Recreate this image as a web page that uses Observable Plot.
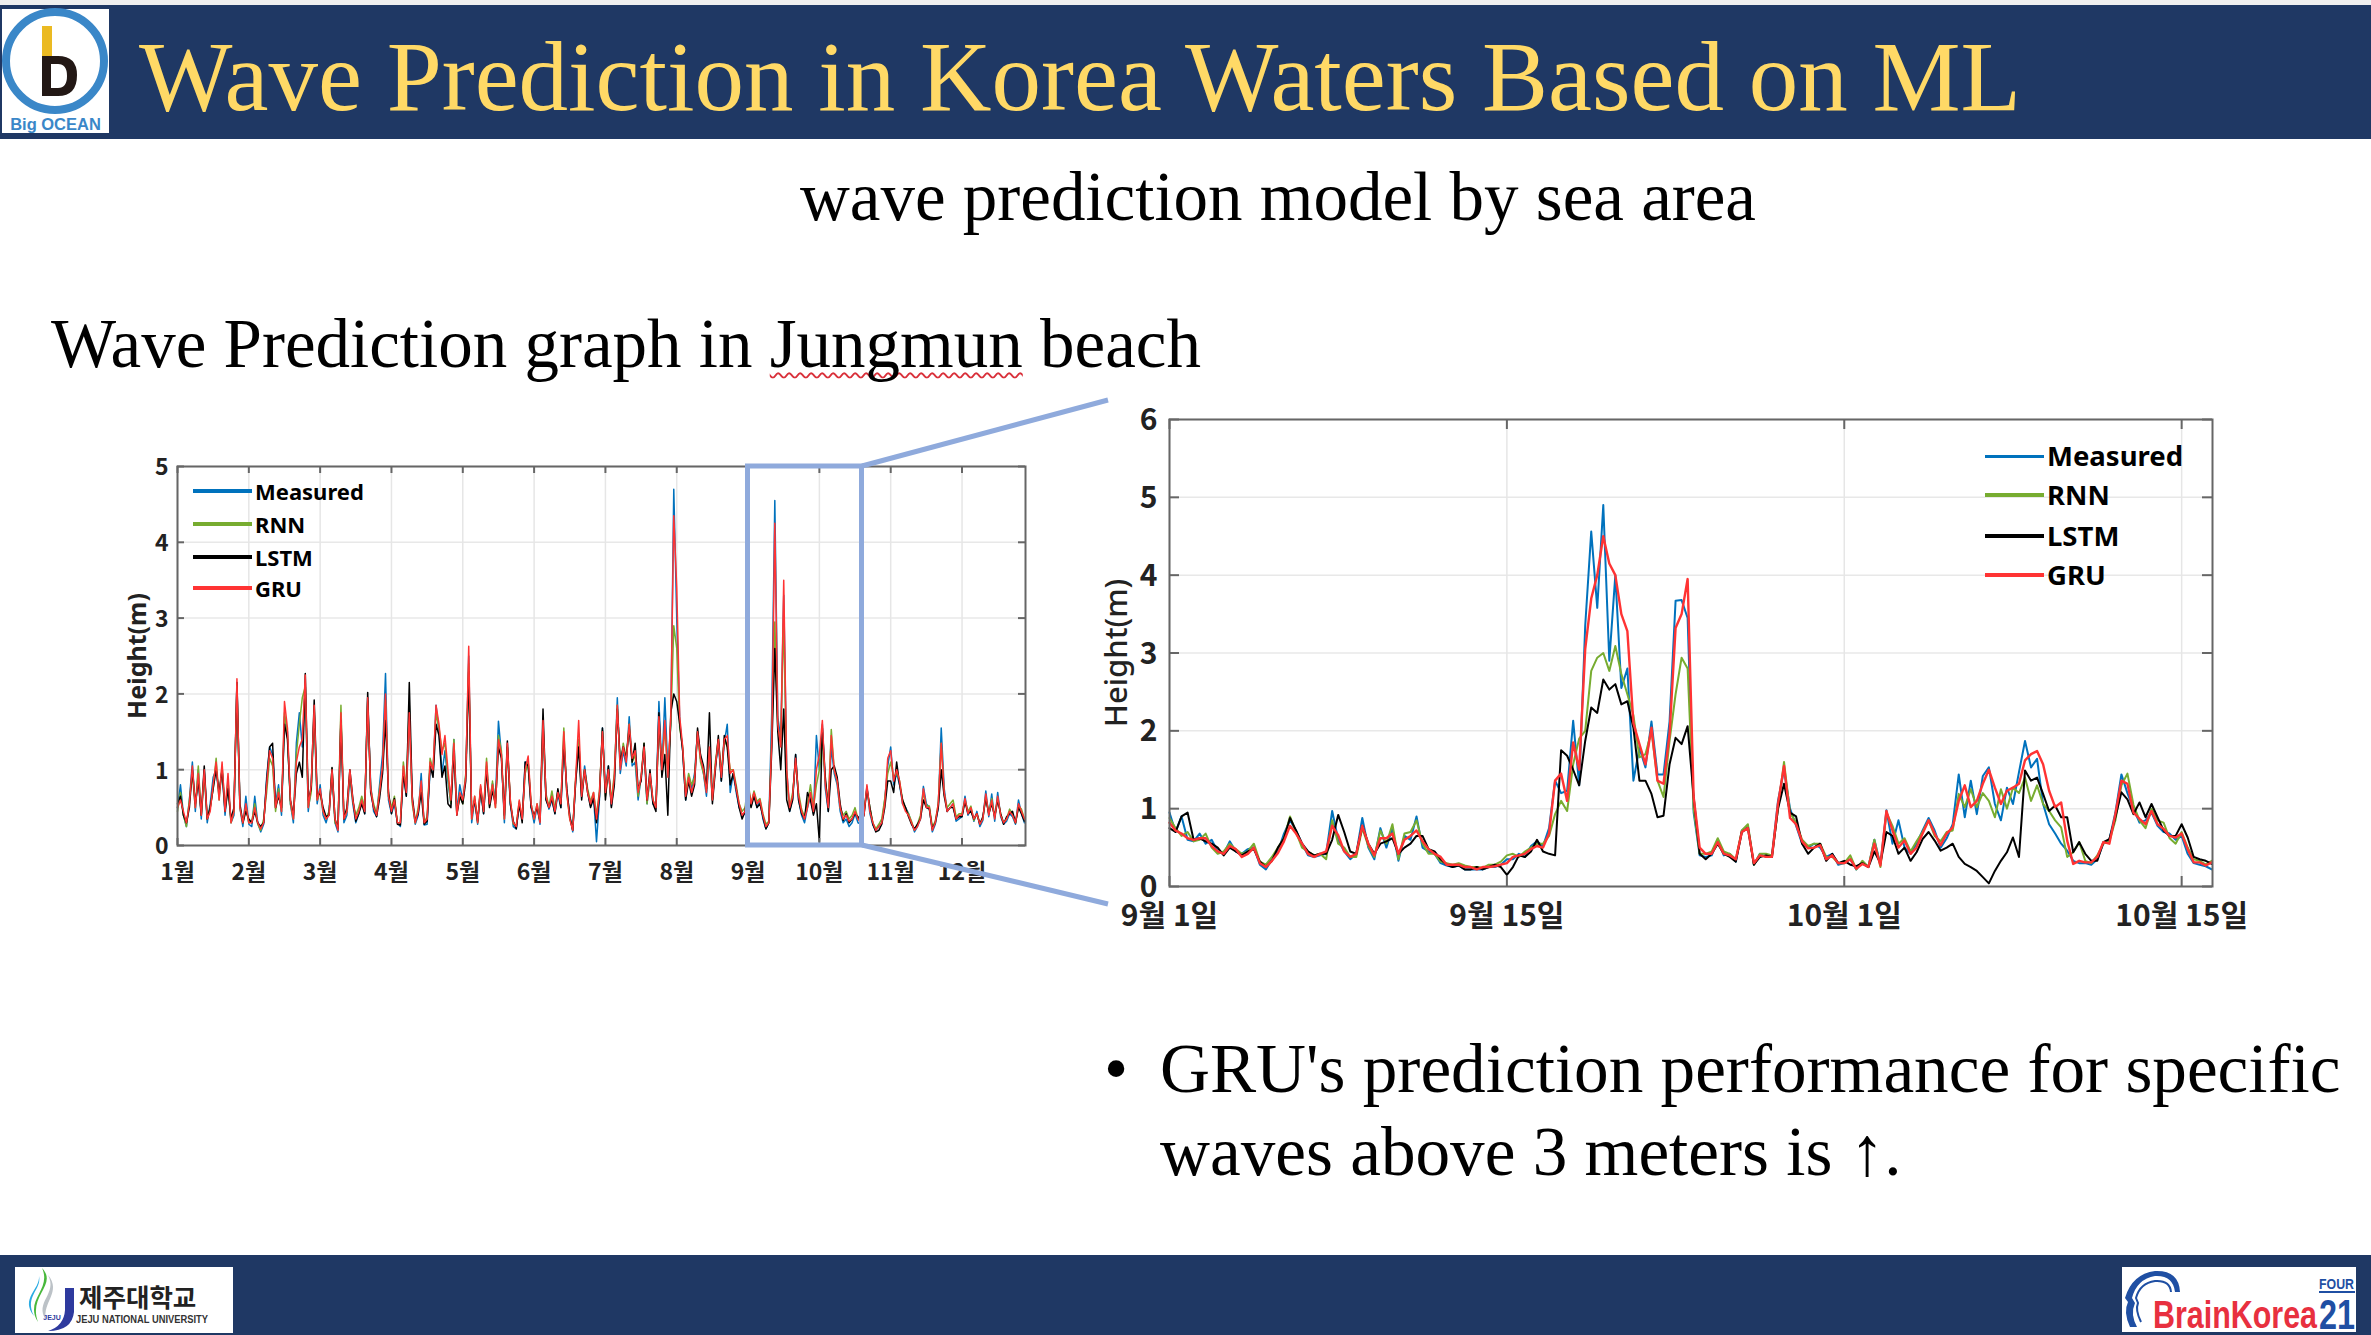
<!DOCTYPE html>
<html><head><meta charset="utf-8">
<script src="https://cdn.jsdelivr.net/npm/d3@7"></script>
<script src="https://cdn.jsdelivr.net/npm/@observablehq/plot@0.6"></script>
<style>
html,body{margin:0;padding:0;background:#fff}
#page{position:relative;width:2371px;height:1335px;overflow:hidden;background:#fff}
.abs{position:absolute}
.t{position:absolute;font-family:"Liberation Serif",serif;color:#000;white-space:pre;line-height:normal}
.lg{position:absolute;font-family:"Noto Sans",sans-serif;font-weight:700;color:#000;white-space:pre;line-height:1}
</style></head><body>
<div id="page"></div>
<script>
const monthLabels=["1월","2월","3월","4월","5월","6월","7월","8월","9월","10월","11월","12월"];
const dayLabels=["9월 1일","9월 15일","10월 1일","10월 15일"];
const seriesNames=["Measured","RNN","LSTM","GRU"];
const seriesColors=["#0072bd","#77ac30","#000000","#ff3333"];

// full-year panel, one value per 1/24 of a month tick
const yearMeasured=[
.5,.8,.4,.25,.6,1.1,.45,1,.35,1,.3,.55,.9,1,.65,1,.4,.85,.3,.4,2.15,.5,.25,.65,
.28,.25,.65,.3,.18,.28,.9,1.3,1.2,.55,.8,.4,1.7,1.5,.55,.3,1.35,1.75,1.3,2.1,.45,.8,1.75,.55,
.8,.4,.3,.45,.95,.3,.18,1.7,.3,.4,.9,.55,.3,.42,.62,.42,1.95,.8,.45,.38,.8,1.2,2.27,.6,
.42,.55,.3,.25,1,.65,1.7,.6,.28,.4,.95,.27,.28,1,.95,1.85,1.5,.95,1.25,.85,.55,1.4,.45,.8,
.6,.92,2.5,.3,.6,.28,.72,.42,1.05,.55,.82,.6,1.64,1.2,.3,1.3,.55,.25,.22,.55,.33,1.1,1.1,.5,
.3,.52,.28,1.55,.62,.48,.6,.42,.68,.5,1.4,.72,.4,.18,.85,1.4,.65,1.05,.72,.52,.65,.05,.62,1.55,
.72,1.05,.52,.85,1.95,.95,1.25,1.05,1.7,1.05,1.1,.6,.9,1.25,.55,.9,.55,.5,1.9,1,1.95,1,1.6,4.7,
3,1.65,1.25,.6,.9,.75,.95,1.5,1.15,.95,.65,1.2,.6,1.05,1.35,.85,1.35,1.6,.7,.95,.7,.5,.4,.42,
.78,.52,.7,.5,.6,.35,.22,.3,1.8,4.55,1.7,1.4,3.3,1,.45,.62,1.2,.6,.4,.3,.5,.65,.42,1.45,
1,1.6,.75,.45,1.3,.95,.8,.45,.3,.35,.25,.3,.42,.3,.28,.42,.78,.42,.27,.2,.25,.3,.6,1.05,
1.3,.8,.95,.8,.55,.5,.42,.3,.18,.25,.35,.78,.55,.5,.18,.28,.5,1.55,.75,.45,.5,.55,.32,.35,
.38,.65,.4,.48,.32,.45,.25,.33,.72,.38,.68,.32,.7,.38,.28,.32,.42,.38,.28,.6,.42,.3];
const yearRNN=[
.45,.7,.4,.25,.6,.95,.5,1.05,.4,.95,.35,.5,.75,1.15,.6,1.05,.5,.8,.3,.45,2.1,.5,.3,.5,
.3,.32,.55,.28,.2,.35,.7,1.15,1.05,.45,.75,.45,1.75,1.45,.55,.35,1.2,1.6,1.95,2.1,.5,.7,1.8,.6,
.7,.45,.35,.45,1.02,.3,.25,1.85,.35,.45,.95,.58,.4,.5,.65,.5,1.9,.75,.55,.42,.75,1,1.92,.65,
.5,.65,.3,.3,1.1,.75,1.85,.55,.3,.5,.8,.3,.38,1.15,1,1.75,1.55,1.25,1.35,.9,.55,1.4,.42,.65,
.55,.95,2.4,.35,.65,.3,.78,.45,1.15,.52,.85,.5,1.45,1.25,.35,1.3,.6,.28,.27,.58,.35,.95,1.1,.55,
.35,.55,.32,1.6,.68,.52,.72,.48,.72,.55,1.55,.68,.35,.22,.9,1.4,.68,1,.75,.58,.7,.4,.72,1.52,
.65,1,.6,.95,1.85,1.05,1.35,1.15,1.6,1.1,1.2,.65,.9,1.35,.55,.9,.6,.5,1.6,1.05,1.55,.95,1.6,2.9,
2.6,1.55,1.3,.7,.95,.8,.9,1.5,1.1,.95,.72,1.25,.6,1.1,1.4,.95,1.4,1.3,1,1,.8,.55,.45,.5,
.85,.55,.72,.58,.62,.42,.28,.32,1.45,2.95,1.55,1.35,3,.9,.5,.7,1.1,.7,.48,.38,.55,.8,.5,.8,
1,1.4,.85,.55,1.53,1,.85,.5,.4,.45,.35,.4,.5,.35,.35,.45,.75,.5,.3,.22,.28,.35,.62,.95,
1.1,.9,.95,.85,.6,.48,.42,.32,.2,.28,.4,.7,.52,.52,.25,.32,.55,1.35,.68,.5,.55,.6,.38,.42,
.42,.6,.45,.52,.33,.42,.3,.35,.65,.42,.62,.38,.62,.42,.3,.35,.48,.42,.3,.52,.48,.35];
const yearLSTM=[
.55,.65,.4,.3,.5,1,.55,.85,.4,1.05,.35,.5,.75,1,.7,1,.45,.75,.35,.5,2.15,.55,.3,.45,
.35,.3,.45,.3,.25,.3,.85,1.3,1.35,.5,.65,.5,1.6,1.4,.6,.4,.95,1.1,.9,2.27,.6,.75,1.92,.65,
.7,.5,.38,.4,1.03,.35,.22,1.65,.35,.5,1,.62,.32,.42,.55,.42,2.02,.7,.5,.38,.62,.95,1.65,.7,
.42,.62,.28,.27,.95,.65,2.15,.65,.32,.42,.7,.28,.32,1.05,.9,1.6,1.45,.9,1.05,.55,.5,1.25,.4,.65,
.55,.85,2.3,.4,.6,.32,.75,.42,1,.5,.72,.55,1.3,1.15,.4,1.38,.55,.32,.22,.55,.3,1.1,1.05,.5,
.4,.5,.32,1.8,.6,.5,.62,.42,.75,.5,1.35,.75,.38,.2,.85,1.3,.6,1,.7,.5,.62,.3,.65,1.55,
.6,1.05,.5,.8,1.8,1.1,1.3,1.15,1.55,1.1,1.35,.75,.85,1.35,.6,1,.55,.45,1.75,.9,1.2,.4,1.75,2,
1.9,1.6,1.25,.6,.85,.65,.8,1.55,1.2,1.05,.75,1.75,.55,1,1.45,.85,1.45,1.3,.8,.95,.75,.5,.35,.45,
.78,.5,.65,.5,.55,.38,.22,.3,1.3,2.6,1.5,1,1.8,.6,.45,.6,1.2,.6,.42,.35,.7,.6,.4,.55,
.05,1.55,.9,.45,1,1.05,.9,.55,.33,.42,.3,.35,.42,.38,.3,.4,.75,.5,.28,.18,.2,.28,.5,.85,
.85,.7,1.1,.8,.6,.5,.38,.28,.22,.28,.35,.6,.5,.48,.22,.3,.5,1,.65,.45,.5,.5,.35,.38,
.38,.58,.42,.45,.35,.42,.28,.38,.62,.42,.55,.38,.6,.42,.28,.38,.42,.45,.3,.5,.42,.32];
const yearGRU=[
.5,.6,.45,.3,.55,1.05,.5,.95,.4,1,.35,.45,.8,1.1,.6,1.1,.45,.95,.3,.45,2.2,.5,.3,.55,
.3,.3,.5,.3,.22,.3,.8,1.25,1.15,.5,.7,.45,1.9,1.55,.6,.35,1.1,1.3,1.4,2.25,.5,.8,1.85,.6,
.75,.45,.35,.4,1,.35,.2,1.75,.35,.45,1,.6,.35,.45,.6,.45,1.95,.75,.5,.4,.7,1.05,2,.65,
.45,.6,.3,.3,1.05,.7,1.75,.6,.3,.45,.85,.3,.35,1.1,1,1.85,1.6,1.2,1.45,1,.6,1.35,.4,.7,
.6,.9,2.63,.35,.65,.3,.8,.45,1.1,.55,.8,.5,1.4,1.2,.35,1.35,.6,.3,.25,.6,.35,1,1.18,.55,
.35,.55,.3,1.65,.65,.5,.65,.45,.7,.55,1.5,.7,.35,.2,.9,1.65,.65,1,.7,.55,.7,.35,.7,1.5,
.7,1,.55,.9,1.85,1,1.3,1.1,1.6,1.15,1.25,.7,.9,1.3,.6,.95,.6,.5,1.7,1,1.65,.9,1.7,4.35,
3.4,1.7,1.3,.65,.9,.7,.85,1.5,1.15,1,.7,1.3,.6,1.05,1.4,.9,1.4,1.45,.95,1,.75,.55,.4,.45,
.8,.55,.7,.55,.6,.4,.25,.3,1.4,4.25,1.6,1.3,3.5,1,.5,.65,1.15,.65,.45,.35,.5,.7,.45,1,
1.2,1.65,.8,.5,1.45,1,.85,.5,.35,.4,.32,.35,.45,.35,.3,.4,.8,.45,.3,.2,.25,.3,.55,1.15,
1.25,.85,1,.85,.55,.45,.4,.3,.2,.25,.35,.75,.5,.5,.2,.3,.55,1.35,.7,.45,.5,.55,.35,.4,
.4,.62,.42,.5,.35,.42,.28,.35,.68,.4,.6,.35,.65,.4,.3,.35,.45,.4,.3,.55,.45,.35];

// close-up panel, four values per day tick unit
const zoomMeasured=[
.95,.7,.9,.6,.58,.68,.55,.6,.45,.42,.58,.45,.42,.48,.5,.28,.22,.35,.45,.68,
.85,.72,.55,.4,.38,.4,.42,.97,.6,.45,.35,.42,.88,.5,.35,.75,.5,.75,.33,.65,
.6,.9,.5,.45,.42,.3,.27,.25,.27,.22,.22,.22,.22,.25,.25,.28,.35,.35,.42,.38,
.52,.58,.52,.75,1.36,1.2,1.23,2.13,1.3,3.35,4.56,3.58,4.9,2.9,4,2.55,2.8,1.36,1.78,1.53,
2.12,1.44,1.44,2.12,3.67,3.68,3.45,.95,.4,.38,.4,.6,.4,.42,.32,.72,.78,.28,.42,.38,
.4,1.1,1.5,1,.78,.55,.5,.55,.5,.38,.42,.28,.3,.35,.22,.32,.25,.6,.28,.98,
.55,.85,.5,.42,.55,.72,.88,.72,.5,.62,.8,1.44,.89,1.36,.93,1.42,1.53,1.06,.85,1.27,
1.06,1.47,1.87,1.53,1.64,1.06,.8,.68,.55,.46,.33,.3,.3,.28,.35,.55,.6,.95,1.44,1.2,
1,.82,.85,.95,.78,.7,.68,.6,.65,.42,.3,.28,.26,.22];
const zoomRNN=[
.88,.75,.65,.7,.58,.6,.68,.5,.42,.45,.55,.48,.42,.45,.55,.32,.28,.38,.5,.62,
.9,.7,.5,.45,.4,.42,.35,.85,.55,.5,.38,.38,.75,.52,.38,.72,.55,.8,.35,.68,
.7,.85,.55,.42,.42,.32,.3,.28,.3,.27,.25,.25,.24,.28,.28,.32,.4,.42,.38,.45,
.5,.55,.55,.65,.93,1.1,.97,1.57,1.9,2,2.77,2.94,3,2.77,3.09,2.73,2.47,2.2,1.66,1.7,
2,1.36,1.15,1.87,2.47,2.94,2.8,1,.42,.42,.45,.62,.45,.42,.35,.72,.8,.28,.42,.42,
.4,1,1.6,.95,.82,.6,.52,.55,.55,.38,.38,.3,.3,.4,.22,.33,.25,.6,.25,.95,
.78,.55,.62,.45,.58,.7,.85,.65,.58,.7,.72,1.19,1.02,1.25,1.02,1.2,1.1,.89,1.25,1,
1.27,1.2,1.4,1.1,1.3,1.06,.97,.85,.76,.38,.44,.57,.33,.3,.4,.55,.58,.85,1.3,1.45,
1.05,.85,.75,1,.85,.82,.62,.55,.7,.5,.35,.33,.28,.33];
const zoomLSTM=[
.75,.7,.9,.95,.6,.62,.58,.55,.5,.4,.5,.45,.4,.45,.48,.32,.25,.33,.5,.62,
.88,.72,.55,.45,.4,.42,.42,.6,.92,.7,.45,.42,.78,.55,.42,.55,.58,.62,.42,.5,
.55,.65,.65,.48,.45,.35,.28,.25,.27,.22,.22,.25,.22,.25,.28,.25,.15,.25,.4,.38,
.45,.6,.45,.42,.4,1.75,1.68,1.5,1.3,1.87,2.3,2.23,2.66,2.53,2.6,2.34,2.38,2.04,1.36,1.36,
1.19,.89,.91,1.57,1.91,1.83,2.06,1.15,.42,.35,.42,.55,.42,.38,.32,.7,.75,.28,.38,.4,
.38,1,1.32,.95,.9,.55,.42,.5,.55,.33,.42,.3,.33,.28,.26,.3,.25,.45,.3,.7,
.65,.42,.5,.33,.44,.61,.7,.59,.46,.5,.55,.38,.29,.25,.2,.12,.04,.2,.33,.44,
.63,.38,1.49,1.36,1.4,1.19,.97,1.04,.89,.89,.44,.57,.42,.33,.33,.57,.61,.89,1.21,1.12,
.93,1.08,.89,1.06,.89,.72,.65,.65,.8,.63,.38,.35,.33,.29];
const zoomGRU=[
.82,.72,.68,.62,.6,.62,.62,.52,.45,.42,.52,.48,.38,.42,.5,.3,.25,.33,.43,.58,
.78,.68,.55,.42,.38,.42,.45,.78,.66,.45,.38,.42,.78,.55,.4,.62,.62,.68,.42,.6,
.65,.72,.58,.48,.42,.38,.28,.28,.28,.25,.25,.22,.25,.25,.26,.28,.3,.38,.4,.42,
.48,.52,.5,.68,1.36,1.45,1.1,1.85,1.5,3.05,3.7,4,4.5,4.15,4,3.5,3.28,2.1,1.83,1.57,
2.04,1.36,1.32,1.96,3.32,3.5,3.95,1.15,.5,.42,.42,.57,.42,.4,.35,.7,.75,.3,.4,.38,
.38,1.06,1.55,.88,.8,.58,.49,.5,.53,.35,.4,.3,.3,.35,.23,.29,.25,.55,.27,.97,
.72,.5,.59,.42,.5,.68,.85,.68,.53,.68,.76,1.1,1.3,1.02,1.1,1.32,1.5,1.27,1.06,1.23,
1.27,1.32,1.62,1.7,1.74,1.57,1.23,1.02,1.08,.59,.29,.33,.31,.31,.38,.57,.55,.93,1.36,1.32,
.95,.87,.8,.97,.8,.74,.65,.63,.68,.48,.31,.31,.27,.31];

const page=document.getElementById("page");
const NAVY="#1f3864";
function el(cls,css,txt){const e=document.createElement("div");if(cls)e.className=cls;Object.assign(e.style,css);if(txt!=null)e.textContent=txt;page.appendChild(e);return e;}

// slide bands
el("abs",{left:"0",top:"0",width:"2371px",height:"5px",background:"#efefef"});
el("abs",{left:"0",top:"5px",width:"2371px",height:"134px",background:NAVY});
el("abs",{left:"0",top:"1255px",width:"2371px",height:"80px",background:NAVY});

// slide text
const serif=(fs,baseline)=>({fontSize:fs+"px",top:(baseline-0.891*fs)+"px"});
el("t",{...serif(99,108),left:"139px",color:"#ffd966"},"Wave Prediction in Korea Waters Based on ML");
el("t",{...serif(69,219),left:"800px"},"wave prediction model by sea area");
const head=el("t",{...serif(69,366),left:"51px"});
head.innerHTML='Wave Prediction graph in <span style="text-decoration:underline wavy #d9303a 1.5px;text-decoration-skip-ink:none;text-underline-offset:5px">Jungmun</span> beach';
el("t",{...serif(69,1091),left:"1104px"},"•");
el("t",{...serif(69.2,1091),left:"1160px"},"GRU's prediction performance for specific");
el("t",{...serif(69.2,1174),left:"1160px"},"waves above 3 meters is ↑.");

// panels
function panel(o){
  const innerW=o.W-o.ml-o.mr,innerH=o.H-o.mt-o.mb;
  const tick=o.tick,xOf=(d,i)=>i*o.step;
  const txt={fontFamily:'"Noto Sans CJK KR","Noto Sans",sans-serif',fontWeight:o.fw,fill:"#222"};
  const svg=Plot.plot({
    width:o.W,height:o.H,marginLeft:o.ml,marginRight:o.mr,marginTop:o.mt,marginBottom:o.mb,
    style:{position:"absolute",left:o.left+"px",top:o.top+"px",background:"transparent",overflow:"visible"},
    x:{domain:o.xDomain},y:{domain:o.yDomain},
    marks:[
      Plot.gridY(o.yTicks,{stroke:"#e8e8e8",strokeOpacity:1,strokeWidth:o.gridW}),
      Plot.gridX(o.xTicks,{stroke:"#e6e6e6",strokeOpacity:1,strokeWidth:1.5}),
      ...o.series.map((s,k)=>Plot.lineY(s,{x:xOf,y:d=>d,stroke:seriesColors[k],strokeWidth:o.lw[k],strokeLinejoin:"round"})),
      Plot.frame({stroke:"#666",strokeWidth:2}),
      Plot.tickY(o.yTicks,{y:d=>d,insetRight:innerW-tick,stroke:"#666",strokeWidth:2}),
      Plot.tickY(o.yTicks,{y:d=>d,insetLeft:innerW-tick,stroke:"#666",strokeWidth:2}),
      Plot.tickX(o.xTicks,{x:d=>d,insetTop:innerH-tick,stroke:"#666",strokeWidth:2}),
      Plot.tickX(o.xTicks,{x:d=>d,insetBottom:innerH-tick,stroke:"#666",strokeWidth:2}),
      Plot.axisY({ticks:o.yTicks,tickSize:0,tickPadding:o.yPad,dy:o.yDy,label:null,tickFormat:d=>String(d),fontSize:o.fs,...txt}),
      Plot.axisX({ticks:o.xTicks,tickSize:0,tickPadding:o.xPad,label:null,tickFormat:d=>o.xLabels[o.xTicks.indexOf(d)],fontSize:o.fs,...txt}),
      Plot.text(["Height(m)"],{text:d=>d,frameAnchor:"left",textAnchor:"middle",rotate:-90,dx:o.labDx,fontSize:o.labFs,fontWeight:o.labFw,fontFamily:'"Noto Sans",sans-serif',fill:"#222"})
    ]
  });
  page.appendChild(svg);
}
panel({left:100,top:440,W:960,H:480,ml:77,mr:35,mt:26,mb:75,tick:7,step:1/24,
  xDomain:[0,11.89],yDomain:[0,5],yTicks:[0,1,2,3,4,5],xTicks:d3.range(12),xLabels:monthLabels,
  series:[yearMeasured,yearRNN,yearLSTM,yearGRU],lw:[1.5,1.5,1.5,1.5],gridW:1.5,
  fs:23,fw:700,yPad:9,yDy:1.5,xPad:18,labDx:-40,labFs:25,labFw:700});
panel({left:1080,top:390,W:1200,H:540,ml:89,mr:68,mt:29,mb:44,tick:10,step:1/4,
  xDomain:[0,43.28],yDomain:[0,6],yTicks:[0,1,2,3,4,5,6],xTicks:[0,14,28,42],xLabels:dayLabels,
  series:[zoomMeasured,zoomRNN,zoomLSTM,zoomGRU],lw:[2,2,2,2.4],gridW:1.5,
  fs:30,fw:700,yPad:12,yDy:1,xPad:18,labDx:-52,labFs:31,labFw:500});

// legends
function legend(x0,x1,tx,ys,fs,lh){
  seriesNames.forEach((n,k)=>{
    el("abs",{left:x0+"px",top:(ys[k]-lh/2)+"px",width:(x1-x0)+"px",height:lh+"px",background:seriesColors[k]});
    el("lg",{left:tx+"px",top:(ys[k]-fs*0.55+1)+"px",fontSize:fs+"px"},n);
  });
}
legend(193,252,255,[491,524,557,588],22,4);
legend(1985,2044,2047,[456.5,495,536,575],27.5,3.5);

// callout + logos
const NS="http://www.w3.org/2000/svg";
const ov=document.createElementNS(NS,"svg");
ov.setAttribute("width","2371");ov.setAttribute("height","1335");
ov.setAttribute("style","position:absolute;left:0;top:0;pointer-events:none");
ov.innerHTML=`
<rect x="747.5" y="466" width="114" height="379" fill="none" stroke="#8faadc" stroke-width="5"/>
<line x1="862" y1="466" x2="1108" y2="400" stroke="#8faadc" stroke-width="5"/>
<line x1="862" y1="845" x2="1108" y2="904" stroke="#8faadc" stroke-width="5"/>
<rect x="2" y="9" width="107" height="124" fill="#fff"/>
<circle cx="55" cy="61" r="49" fill="none" stroke="#3a87c8" stroke-width="8"/>
<rect x="42" y="26" width="10" height="30" fill="#ebba22"/>
<path d="M42 56 H58 Q77 56 77 75 Q77 96 58 96 H42 Z M51 64 V88 H58 Q67 88 67 76 Q67 64 58 64 Z" fill="#231815" fill-rule="evenodd"/>
<text x="55.5" y="130" text-anchor="middle" font-family="Liberation Sans" font-weight="700" font-size="16.5" fill="#3a87c8">Big OCEAN</text>
<rect x="15" y="1267" width="218" height="66" fill="#fff"/>
<path d="M42 1268 C58 1285 28 1295 38 1322 C24 1300 52 1290 42 1268 Z" fill="#49b83c"/>
<path d="M39 1276 C42 1290 24 1296 34 1316 C20 1298 40 1290 39 1276 Z" fill="#29abe2"/>
<path d="M48 1275 C62 1292 42 1302 46 1320 C34 1302 58 1294 48 1275 Z" fill="#bcc2c7"/>
<path d="M65 1288 H74 V1312 Q72 1331 48 1331 Q64 1326 65 1310 Z" fill="#2e3a9e"/>
<text x="52" y="1320" text-anchor="middle" font-family="Liberation Sans" font-weight="700" font-size="7" fill="#2e3a9e">JEJU</text>
<text x="79" y="1307" font-family="Noto Sans CJK KR" font-weight="700" font-size="25.5" fill="#222">제주대학교</text>
<text x="76" y="1323" font-family="Liberation Sans Narrow,Liberation Sans" font-weight="700" font-size="10.8" textLength="132" lengthAdjust="spacingAndGlyphs" fill="#333">JEJU NATIONAL UNIVERSITY</text>
<rect x="2122" y="1267" width="234" height="65" fill="#fff"/>
<path d="M2130 1327 Q2123 1312 2128 1302 L2125 1298 Q2132 1274 2155 1271 Q2179 1270 2180 1292 H2175 Q2173 1275 2155 1276 Q2137 1279 2132 1298 L2135 1303 Q2130 1314 2137 1327 Z" fill="#1f4fa3"/>
<path d="M2141 1322 Q2135 1310 2138 1303 L2136 1298 Q2140 1283 2155 1281 Q2170 1280 2171 1292" fill="none" stroke="#1f4fa3" stroke-width="2"/>
<text x="2153" y="1328" font-family="Liberation Sans" font-weight="700" font-size="39" textLength="164" lengthAdjust="spacingAndGlyphs" fill="#e8303f">BrainKorea</text>
<text x="2319" y="1289" font-family="Liberation Sans" font-weight="700" font-size="14" textLength="35" lengthAdjust="spacingAndGlyphs" fill="#1f4fa3">FOUR</text>
<line x1="2319" y1="1292" x2="2355" y2="1292" stroke="#1f4fa3" stroke-width="2"/>
<text x="2319" y="1329" font-family="Liberation Sans" font-weight="700" font-size="43" textLength="36" lengthAdjust="spacingAndGlyphs" fill="#1f4fa3">21</text>`;
page.appendChild(ov);
</script>
</body></html>
